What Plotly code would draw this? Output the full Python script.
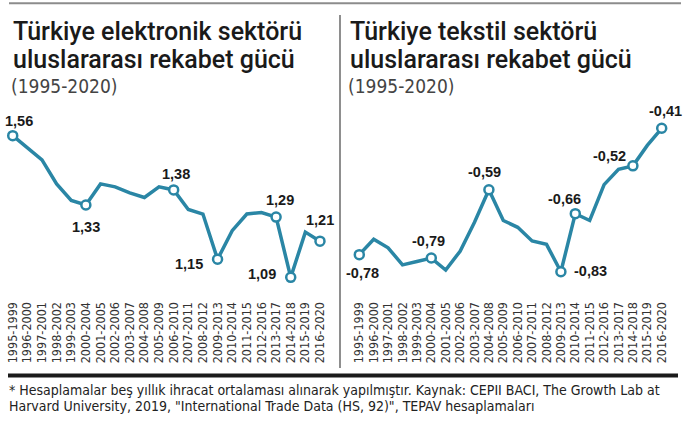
import plotly.graph_objects as go

# ---------------------------------------------------------------- #
# DATA  (5 yillik donemler)
# ---------------------------------------------------------------- #

periods = ["1995-1999", "1996-2000", "1997-2001", "1998-2002", "1999-2003",
           "2000-2004", "2001-2005", "2002-2006", "2003-2007", "2004-2008",
           "2005-2009", "2006-2010", "2007-2011", "2008-2012", "2009-2013",
           "2010-2014", "2011-2015", "2012-2016", "2013-2017", "2014-2018",
           "2015-2019", "2016-2020"]

elektronik = [1.56, 1.52, 1.48, 1.40, 1.345, 1.33, 1.40, 1.39, 1.37, 1.355, 1.39,
              1.38, 1.315, 1.30, 1.15, 1.245, 1.30, 1.305, 1.29, 1.09, 1.24, 1.21]

tekstil = [-0.78, -0.735, -0.76, -0.81, -0.80, -0.79, -0.825, -0.77, -0.685, -0.59, -0.68,
           -0.70, -0.74, -0.75, -0.83, -0.66, -0.68, -0.575, -0.53, -0.52, -0.46, -0.41]

# which points get a circle + value label
elektronik_marked = [0, 5, 11, 14, 18, 19, 21]
tekstil_marked = [0, 5, 9, 14, 15, 19, 21]

titles_left = ["Türkiye elektronik sektörü", "uluslararası rekabet gücü"]
titles_right = ["Türkiye tekstil sektörü", "uluslararası rekabet gücü"]
subtitle = "(1995-2020)"
footnote = ['* Hesaplamalar beş yıllık ihracat ortalaması alınarak yapılmıştır. Kaynak: CEPII BACI, The Growth Lab at',
            'Harvard University, 2019, "International Trade Data (HS, 92)", TEPAV hesaplamaları']

# ---------------------------------------------------------------- #
# STYLE
# ---------------------------------------------------------------- #

W, H = 687, 424
TEAL = "#2a86a5"
INK = "#1a1a1a"
COND = "DejaVu Sans Condensed, DejaVu Sans, sans-serif"
SANS = "Liberation Sans, Arial, sans-serif"

# label offsets (px) for each marked point
left_shift = [(6, -15), (0, 22), (2, -16), (-29, 5), (4, -17), (-29, -3), (0, -21)]
right_shift = [(3, 18), (-3, -17), (-4, -18), (30, -1), (-11, -15), (-23, -10), (4, -17)]


def py(px):
    # pixel row -> paper y
    return 1 - px / H


def fmt(v):
    return ("%.2f" % v).replace(".", ",")


fig = go.Figure()

for vals, marked, xa, ya in [(elektronik, elektronik_marked, "x", "y"),
                             (tekstil, tekstil_marked, "x2", "y2")]:
    fig.add_trace(go.Scatter(x=periods, y=vals, mode="lines", xaxis=xa, yaxis=ya,
                             line=dict(color=TEAL, width=3.5), hoverinfo="skip",
                             showlegend=False))
    fig.add_trace(go.Scatter(x=[periods[i] for i in marked], y=[vals[i] for i in marked],
                             mode="markers", xaxis=xa, yaxis=ya,
                             marker=dict(size=9, color="white", line=dict(color=TEAL, width=2.5)),
                             showlegend=False))

annotations = []
for vals, marked, shifts, xr, yr in [(elektronik, elektronik_marked, left_shift, "x", "y"),
                                     (tekstil, tekstil_marked, right_shift, "x2", "y2")]:
    for i, (dx, dy) in zip(marked, shifts):
        annotations.append(dict(x=periods[i], y=vals[i], xref=xr, yref=yr, text=fmt(vals[i]),
                                showarrow=False, xshift=dx, yshift=-dy,
                                font=dict(family=SANS, size=14.5, color=INK, weight="bold")))

# titles
for x0, lines in [(11, titles_left), (348, titles_right)]:
    for t, ypx in zip(lines, [31.5, 60]):
        annotations.append(dict(x=x0 / W, y=py(ypx), xref="paper", yref="paper", text=t,
                                showarrow=False, xanchor="left", yanchor="middle",
                                font=dict(family="Roboto, sans-serif", size=25, color=INK, weight=500)))
    annotations.append(dict(x=(x0 - 2) / W, y=py(86.5), xref="paper", yref="paper", text=subtitle,
                            showarrow=False, xanchor="left", yanchor="middle",
                            font=dict(family=COND, size=19, color="#444")))

for t, ypx in zip(footnote, [389.5, 406]):
    annotations.append(dict(x=7 / W, y=py(ypx), xref="paper", yref="paper", text=t,
                            showarrow=False, xanchor="left", yanchor="middle",
                            font=dict(family=COND, size=14, color="#222")))

shapes = [
    dict(type="line", xref="paper", yref="paper", x0=9 / W, x1=681 / W, y0=py(3.3), y1=py(3.3),
         line=dict(color="#8c8c8c", width=2)),
    dict(type="line", xref="paper", yref="paper", x0=340 / W, x1=340 / W, y0=py(15), y1=py(368),
         line=dict(color="#444", width=1.2)),
    dict(type="line", xref="paper", yref="paper", x0=8 / W, x1=678 / W, y0=py(375.5), y1=py(375.5),
         line=dict(color=INK, width=4)),
]

xaxis_common = dict(type="category", range=[-0.5, 21.5], tickangle=-90, showgrid=False,
                    zeroline=False, showline=False, ticks="outside", ticklen=6,
                    tickcolor="rgba(0,0,0,0)", tickmode="array", tickvals=periods,
                    tickfont=dict(family=COND, size=12.5, color="#333"))
yaxis_common = dict(visible=False, domain=[py(290), py(120)])

fig.update_layout(
    width=W, height=H,
    margin=dict(l=0, r=0, t=0, b=0),
    paper_bgcolor="white", plot_bgcolor="white",
    xaxis=dict(xaxis_common, domain=[5.4 / W, 327.3 / W], anchor="y"),
    xaxis2=dict(xaxis_common, domain=[352.1 / W, 668.9 / W], anchor="y2"),
    yaxis=dict(yaxis_common, range=[1.048, 1.612], anchor="x"),
    yaxis2=dict(yaxis_common, range=[-0.8836, -0.3857], anchor="x2"),
    annotations=annotations,
    shapes=shapes,
)

# page has an 8px body margin by default, drop it so the figure sits at 0,0
fig.write_html("out.html", config={"displayModeBar": False},
               post_script="document.body.style.margin='0';")
